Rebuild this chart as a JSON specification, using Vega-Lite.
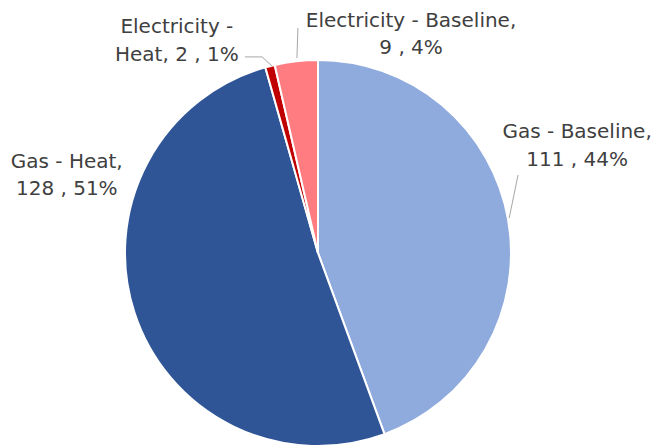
{
  "$schema": "https://vega.github.io/schema/vega-lite/v6.json",
  "width": 560,
  "height": 386,
  "autosize": {"type": "none"},
  "padding": {"left": 38, "top": 60, "right": 55, "bottom": 0},
  "background": "white",
  "config": {"view": {"stroke": null}},
  "datasets": {
    "slices": [
      {"category": "Gas - Baseline", "value": 111, "order": 1},
      {"category": "Gas - Heat", "value": 128, "order": 2},
      {"category": "Electricity - Heat", "value": 2, "order": 3},
      {"category": "Electricity - Baseline", "value": 9, "order": 4}
    ],
    "labels": [
      {"text": "Electricity - Baseline,", "x": 48.2, "y": 117.1},
      {"text": "9 , 4%", "x": 48.2, "y": 103.1},
      {"text": "Gas - Baseline,", "x": 134.2, "y": 59.8},
      {"text": "111 , 44%", "x": 134.2, "y": 45.1},
      {"text": "Gas - Heat,", "x": -130.1, "y": 44.0},
      {"text": "128 , 51%", "x": -130.1, "y": 30.1},
      {"text": "Electricity -", "x": -73.1, "y": 114.2},
      {"text": "Heat, 2 , 1%", "x": -73.1, "y": 99.7}
    ],
    "leaders": [
      {"id": "gb", "seq": 1, "x": 99.0, "y": 18.1},
      {"id": "gb", "seq": 2, "x": 103.6, "y": 40.4},
      {"id": "eb", "seq": 1, "x": -10.9, "y": 101.0},
      {"id": "eb", "seq": 2, "x": -10.4, "y": 116.6},
      {"id": "eh", "seq": 1, "x": -23.8, "y": 96.9},
      {"id": "eh", "seq": 2, "x": -29.0, "y": 101.6},
      {"id": "eh", "seq": 3, "x": -37.8, "y": 101.6}
    ]
  },
  "layer": [
    {
      "data": {"name": "slices"},
      "mark": {"type": "arc", "outerRadius": 193, "stroke": "white", "strokeWidth": 2},
      "encoding": {
        "theta": {"field": "value", "type": "quantitative", "stack": true},
        "order": {"field": "order", "type": "quantitative"},
        "color": {
          "field": "category",
          "type": "nominal",
          "scale": {
            "domain": ["Gas - Baseline", "Gas - Heat", "Electricity - Heat", "Electricity - Baseline"],
            "range": ["#8FAADC", "#2F5597", "#C00000", "#FF7C80"]
          },
          "legend": null
        }
      }
    },
    {
      "data": {"name": "leaders"},
      "mark": {"type": "line", "color": "#A6A6A6", "strokeWidth": 1},
      "encoding": {
        "x": {"field": "x", "type": "quantitative", "scale": {"domain": [-145, 145]}, "axis": null},
        "y": {"field": "y", "type": "quantitative", "scale": {"domain": [-100, 100]}, "axis": null},
        "detail": {"field": "id"},
        "order": {"field": "seq", "type": "quantitative"}
      }
    },
    {
      "data": {"name": "labels"},
      "mark": {"type": "text", "font": "DejaVu Sans", "fontSize": 20, "color": "#404040", "align": "center", "baseline": "alphabetic"},
      "encoding": {
        "x": {"field": "x", "type": "quantitative", "scale": {"domain": [-145, 145]}, "axis": null},
        "y": {"field": "y", "type": "quantitative", "scale": {"domain": [-100, 100]}, "axis": null},
        "text": {"field": "text"}
      }
    }
  ]
}
